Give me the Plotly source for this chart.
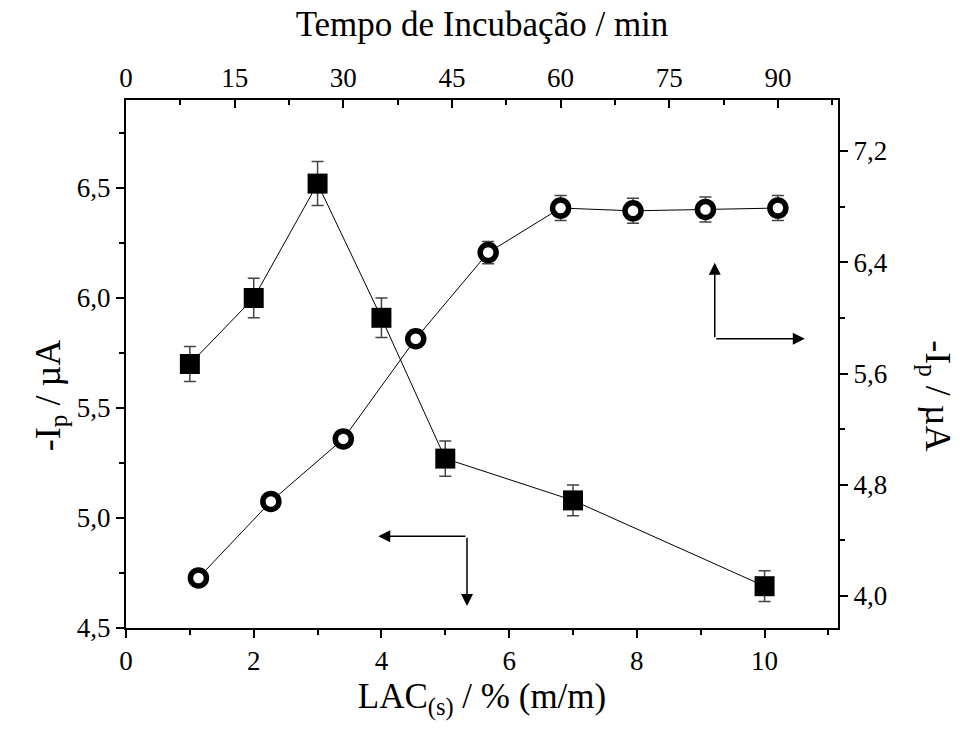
import plotly.graph_objects as go

# LAC(s) concentration series (bottom / left axes)
lac_pct = [1, 2, 3, 4, 5, 7, 10]
ip_lac = [5.70, 6.00, 6.52, 5.91, 5.27, 5.08, 4.69]
ip_lac_err = [0.08, 0.09, 0.10, 0.09, 0.08, 0.07, 0.07]

# Incubation time series (top / right axes)
tempo_min = [10, 20, 30, 40, 50, 60, 70, 80, 90]
ip_tempo = [4.13, 4.68, 5.13, 5.85, 6.47, 6.79, 6.77, 6.78, 6.79]
ip_tempo_err = [0.04, 0.05, 0.05, 0.06, 0.08, 0.09, 0.09, 0.09, 0.09]

FONT = "Liberation Serif, Times New Roman, serif"
TICK_SIZE = 27
TITLE_SIZE = 35

fig = go.Figure()

fig.add_trace(go.Scatter(
    x=lac_pct, y=ip_lac, mode="lines+markers",
    line=dict(color="black", width=1),
    marker=dict(symbol="square", size=20, color="black"),
    error_y=dict(type="data", array=ip_lac_err, visible=True,
                 color="#444", thickness=1.5, width=6),
    xaxis="x", yaxis="y", showlegend=False,
))

fig.add_trace(go.Scatter(
    x=tempo_min, y=ip_tempo, mode="lines+markers",
    line=dict(color="black", width=1),
    marker=dict(symbol="circle", size=16, color="white",
                line=dict(color="black", width=5.5)),
    error_y=dict(type="data", array=ip_tempo_err, visible=True,
                 color="#444", thickness=1.5, width=6),
    xaxis="x2", yaxis="y2", showlegend=False,
))

axis_common = dict(
    showline=True, linecolor="black", linewidth=2,
    showgrid=False, zeroline=False,
    ticklen=8, tickwidth=2, tickcolor="black",
    tickfont=dict(family=FONT, size=TICK_SIZE, color="black"),
)

fig.update_layout(
    width=964, height=732,
    margin=dict(l=126, r=126, t=100, b=104),
    paper_bgcolor="white", plot_bgcolor="white",
    separators=", ",
    font=dict(family=FONT, color="black"),
    xaxis=dict(
        **axis_common, ticks="outside", range=[0, 11.15], tick0=0, dtick=2,
        minor=dict(dtick=1, ticks="outside", ticklen=5, tickwidth=2, tickcolor="black"),
        title=dict(text="LAC<sub>(s)</sub> / % (m/m)", font=dict(family=FONT, size=TITLE_SIZE), standoff=8),
    ),
    xaxis2=dict(
        **axis_common, ticks="inside", range=[0, 98.3], tick0=0, dtick=15,
        overlaying="x", side="top", anchor="y",
        minor=dict(dtick=7.5, ticks="inside", ticklen=5, tickwidth=2, tickcolor="black"),
        title=dict(text="Tempo de Incubação / min", font=dict(family=FONT, size=TITLE_SIZE), standoff=16),
    ),
    yaxis=dict(
        **axis_common, ticks="outside", range=[4.5, 6.9], tick0=4.5, dtick=0.5, tickformat=".1f",
        minor=dict(dtick=0.25, ticks="outside", ticklen=5, tickwidth=2, tickcolor="black"),
    ),
    yaxis2=dict(
        **axis_common, ticks="outside", range=[3.77, 7.567], tick0=4.0, dtick=0.8, tickformat=".1f",
        overlaying="y", side="right", anchor="x",
        minor=dict(dtick=0.4, tick0=4.0, ticks="outside", ticklen=5, tickwidth=2, tickcolor="black"),
    ),
)

# Axis titles for the two current axes (left reads upward, right reads downward)
fig.add_annotation(
    text="-I<sub>p</sub> / µA", textangle=-90,
    xref="paper", yref="paper", x=0.0, y=0.44, xshift=-100,
    showarrow=False, font=dict(family=FONT, size=36, color="black"),
)
fig.add_annotation(
    text="-I<sub>p</sub> / µA", textangle=90,
    xref="paper", yref="paper", x=1.0, y=0.44, xshift=122,
    showarrow=False, font=dict(family=FONT, size=36, color="black"),
)

# Arrows pointing each series to its axes
arrow_style = dict(showarrow=True, arrowhead=2, arrowsize=1.6, arrowwidth=1.5,
                   arrowcolor="black", text="")
# left series -> left and bottom axes
fig.add_annotation(x=3.95, y=4.917, ax=5.34, ay=4.917, xref="x", yref="y",
                   axref="x", ayref="y", **arrow_style)
fig.add_annotation(x=5.34, y=4.6, ax=5.34, ay=4.917, xref="x", yref="y",
                   axref="x", ayref="y", **arrow_style)
# right series -> top and right axes
fig.add_annotation(x=9.22, y=6.16, ax=9.22, ay=5.815, xref="x", yref="y",
                   axref="x", ayref="y", **arrow_style)
fig.add_annotation(x=10.63, y=5.815, ax=9.22, ay=5.815, xref="x", yref="y",
                   axref="x", ayref="y", **arrow_style)

fig.write_html("out.html")
